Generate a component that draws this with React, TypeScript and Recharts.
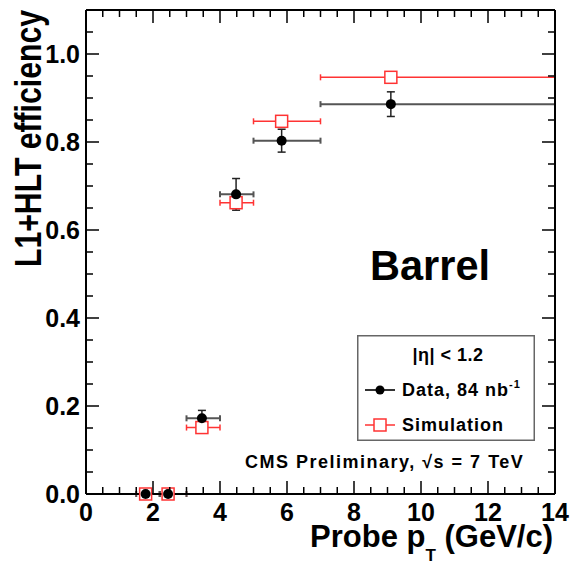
import React from 'react';
import { ScatterChart, Scatter, XAxis, YAxis, ErrorBar } from 'recharts';

// bins in probe pT (GeV/c)
const ptMean = [1.78, 2.45, 3.46, 4.48, 5.84, 9.1];
const binLow = [1.5, 2.2, 3, 4, 5, 7];
const binHigh = [2.2, 3, 4, 5, 7, 14];

// efficiencies
const dataEff = [0.0, 0.0, 0.172, 0.681, 0.803, 0.886];
const dataErr = [0.0, 0.0, 0.018, 0.036, 0.026, 0.028];
const simEff = [0.0, 0.0, 0.151, 0.662, 0.847, 0.947];

const xMajor = [0, 2, 4, 6, 8, 10, 12, 14];
const yMajor = [0, 0.2, 0.4, 0.6, 0.8, 1.0];

const X_MAX = 14;
const Y_MAX = 1.1;

const isMajor = (v: number, list: number[]) => list.some(m => Math.abs(m - v) < 1e-6);
const xAll = Array.from({ length: 29 }, (_, i) => i * 0.5);
const yAll = Array.from({ length: 23 }, (_, i) => Math.round(i * 5) / 100);

const dataRows = ptMean.map((x, i) => ({
    x,
    y: dataEff[i],
    ex: [x - binLow[i], binHigh[i] - x],
    ey: dataErr[i],
}));
const simRows = ptMean.map((x, i) => ({
    x,
    y: simEff[i],
    ex: [x - binLow[i], binHigh[i] - x],
}));

const FONT = '"Liberation Sans", Arial, Helvetica, sans-serif';
const axisLine = { stroke: '#000', strokeWidth: 2 };

// plot box that the chart margins below produce (for the frame tick marks)
const BOX = { left: 86, right: 555, top: 10, bottom: 494 };
const px = (v: number) => BOX.left + (v / X_MAX) * (BOX.right - BOX.left);
const py = (v: number) => BOX.bottom - (v / Y_MAX) * (BOX.bottom - BOX.top);

const renderXLabel = (props: any) => (
    <text x={props.x} y={props.y + 27} textAnchor="middle" fontSize={25} fontWeight="bold" fontFamily={FONT} fill="#000">
        {props.payload.value}
    </text>
);

const renderYLabel = (props: any) => (
    <text x={props.x - 6} y={props.y + 9} textAnchor="end" fontSize={25} fontWeight="bold" fontFamily={FONT} fill="#000">
        {Number(props.payload.value).toFixed(1)}
    </text>
);

const Dot = (props: any) => <circle cx={props.cx} cy={props.cy} r={5} fill="#000" />;
const OpenSquare = (props: any) => (
    <rect x={props.cx - 6} y={props.cy - 6} width={12} height={12} fill="#fff" stroke="#ff3333" strokeWidth={1.5} />
);
const Nothing = () => <g />;

const FrameTicks = () => (
    <g stroke="#000" strokeWidth={1.5}>
        {xAll.map(v => {
            const len = isMajor(v, xMajor) ? 13 : 7;
            const x = px(v);
            return (
                <g key={`x${v}`}>
                    <line x1={x} x2={x} y1={BOX.bottom} y2={BOX.bottom - len} />
                    <line x1={x} x2={x} y1={BOX.top} y2={BOX.top + len} />
                </g>
            );
        })}
        {yAll.map(v => {
            const len = isMajor(v, yMajor) ? 13 : 7;
            const y = py(v);
            return (
                <g key={`y${v}`}>
                    <line x1={BOX.left} x2={BOX.left + len} y1={y} y2={y} />
                    <line x1={BOX.right} x2={BOX.right - len} y1={y} y2={y} />
                </g>
            );
        })}
    </g>
);

export default function App() {
    return (
        <div style={{ position: 'absolute', left: 0, top: 0, width: 571, height: 564, background: '#fff' }}>
            <ScatterChart width={571} height={564} margin={{ top: 10, right: 16, bottom: 0, left: 0 }}>
                <XAxis xAxisId="b" type="number" dataKey="x" domain={[0, X_MAX]} ticks={xMajor} interval={0}
                    height={70} tickSize={0} tickMargin={0} tickLine={false} tick={renderXLabel} axisLine={axisLine} />
                <YAxis yAxisId="l" type="number" dataKey="y" domain={[0, Y_MAX]} ticks={yMajor} interval={0}
                    width={86} tickSize={0} tickMargin={0} tickLine={false} tick={renderYLabel} axisLine={axisLine} />

                {/* top and right frame lines */}
                <XAxis xAxisId="t" orientation="top" type="number" dataKey="x" domain={[0, X_MAX]} ticks={xMajor}
                    mirror height={1} tick={false} tickLine={false} axisLine={axisLine} />
                <YAxis yAxisId="r" orientation="right" type="number" dataKey="y" domain={[0, Y_MAX]} ticks={yMajor}
                    mirror width={1} tick={false} tickLine={false} axisLine={axisLine} />
                <Scatter data={dataRows} xAxisId="t" yAxisId="r" shape={Nothing} isAnimationActive={false} />

                <Scatter data={simRows} xAxisId="b" yAxisId="l" shape={<OpenSquare />} isAnimationActive={false}>
                    <ErrorBar dataKey="ex" direction="x" width={3} stroke="#ff3333" strokeWidth={1.5} isAnimationActive={false} />
                </Scatter>
                <Scatter data={dataRows} xAxisId="b" yAxisId="l" shape={<Dot />} isAnimationActive={false}>
                    <ErrorBar dataKey="ex" direction="x" width={3} stroke="#555" strokeWidth={2} isAnimationActive={false} />
                    <ErrorBar dataKey="ey" direction="y" width={4} stroke="#222" strokeWidth={1.5} isAnimationActive={false} />
                </Scatter>
            </ScatterChart>
            <svg
                width={571}
                height={564}
                style={{ position: 'absolute', left: 0, top: 0, pointerEvents: 'none' }}
            >
                <FrameTicks />
                <text
                    transform="translate(41, 10) rotate(-90)"
                    textAnchor="end"
                    fontSize={36}
                    fontWeight="bold"
                    fontFamily={FONT}
                    textLength={257}
                    lengthAdjust="spacingAndGlyphs"
                >
                    L1+HLT efficiency
                </text>
                <text x={553} y={547} textAnchor="end" fontSize={31} fontWeight="bold" fontFamily={FONT}>
                    Probe p<tspan dy={14} fontSize={17}>T</tspan>
                    <tspan dy={-14}> (GeV/c)</tspan>
                </text>
                <text x={370} y={280} fontSize={42} fontWeight="bold" fontFamily={FONT} textLength={120} lengthAdjust="spacingAndGlyphs">
                    Barrel
                </text>
                <text x={245} y={468} fontSize={18} fontWeight="bold" fontFamily={FONT} letterSpacing={1.5}>
                    CMS Preliminary,  √s = 7 TeV
                </text>
                {/* legend */}
                <g transform="translate(357, 335)">
                    <rect x={0.75} y={0.75} width={176.5} height={104.5} fill="#fff" stroke="#666" strokeWidth={1.5} />
                    <text x={91} y={26} textAnchor="middle" fontSize={18} fontWeight="bold" fontFamily={FONT} letterSpacing={0.5}>
                        |η| &lt; 1.2
                    </text>
                    <line x1={8} x2={38} y1={55} y2={55} stroke="#333" strokeWidth={2} />
                    <circle cx={23} cy={55} r={4.5} fill="#000" />
                    <text x={45} y={61} fontSize={18} fontWeight="bold" fontFamily={FONT} letterSpacing={1}>
                        Data, 84 nb<tspan dy={-8} fontSize={11}>-1</tspan>
                    </text>
                    <line x1={8} x2={38} y1={90} y2={90} stroke="#ff3333" strokeWidth={1.5} />
                    <rect x={17} y={84} width={12} height={12} fill="#fff" stroke="#ff3333" strokeWidth={1.5} />
                    <text x={45} y={96} fontSize={18} fontWeight="bold" fontFamily={FONT} letterSpacing={1}>
                        Simulation
                    </text>
                </g>
            </svg>
        </div>
    );
}
